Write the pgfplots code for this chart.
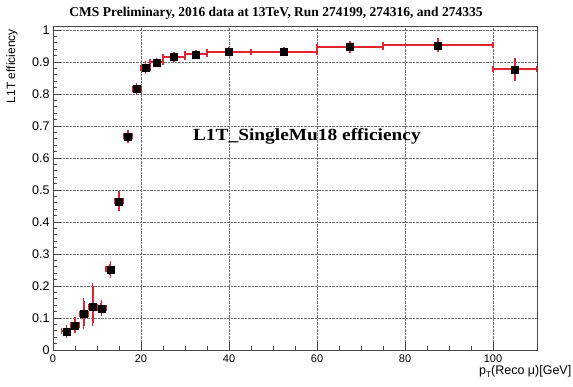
\documentclass[border=0pt]{standalone}
\usepackage{pgfplots}
\usepackage{pgfplotstable}
\pgfplotsset{compat=1.18}
\usepackage{fontspec}
\setmainfont{Liberation Sans}
\newfontfamily\serifbf{Liberation Serif}

\definecolor{rootred}{RGB}{226,36,46}
\definecolor{framegray}{RGB}{70,70,70}

\pgfplotstableread{
x y ex eyp eym
3 0.058 1 0.012 0.010
5 0.077 1 0.018 0.015
7 0.112 1 0.041 0.037
9 0.134 1 0.065 0.051
11 0.130 1 0.016 0.015
13 0.252 1 0.017 0.018
15 0.464 1 0.022 0.021
17 0.667 1 0.012 0.012
19 0.816 1 0.010 0.010
21 0.882 1 0.010 0.010
23.5 0.898 1.5 0.006 0.006
27.5 0.915 2.5 0.005 0.005
32.5 0.923 2.5 0.005 0.005
40 0.932 5 0.004 0.004
52.5 0.932 7.5 0.004 0.004
67.5 0.946 7.5 0.010 0.010
87.5 0.952 12.5 0.012 0.012
105 0.877 5 0.027 0.026
}\effdata

\begin{document}
\begin{tikzpicture}
\begin{axis}[
  name=ax,
  scale only axis,
  width=484pt, height=324pt,
  xmin=0, xmax=110, ymin=0, ymax=1.012,
  xtick={0,20,40,60,80,100},
  ytick={0,0.1,0.2,0.3,0.4,0.5,0.6,0.7,0.8,0.9,1},
  yticklabels={0,0.1,0.2,0.3,0.4,0.5,0.6,0.7,0.8,0.9,1},
  minor x tick num=3,
  minor y tick num=4,
  xtick pos=bottom, ytick pos=left,
  tick align=inside,
  major tick length=8pt, minor tick length=4.5pt,
  every tick/.style={framegray, line width=0.6pt},
  axis line style={framegray, line width=0.7pt},
  grid=major,
  major grid style={densely dotted, black!55, line width=0.6pt},
  /pgf/number format/assume math mode=true,
  xticklabel style={font=\fontsize{11}{11}\selectfont, yshift=-1pt},
  yticklabel style={font=\fontsize{12.5}{12.5}\selectfont},
]
% x error bars (bin widths)
\addplot[draw=rootred, only marks, mark=none, forget plot,
  error bars/.cd, x dir=both, x explicit, error mark=|,
  error bar style={draw=rootred, line width=2pt, solid},
  error mark options={draw=rootred, line width=1.4pt, mark size=3pt}]
  table[x=x, y=y, x error=ex]{\effdata};
% y error bars
\addplot[draw=rootred, only marks, mark=none, forget plot,
  error bars/.cd, y dir=both, y explicit, error mark=-,
  error bar style={draw=rootred, line width=2pt, solid},
  error mark options={draw=rootred, line width=1.4pt, mark size=3pt}]
  table[x=x, y=y, y error plus=eyp, y error minus=eym]{\effdata};
% markers
\addplot[black, only marks, mark=square*, mark size=3.5pt,
  mark options={draw=black, fill=black}]
  table[x=x, y=y]{\effdata};
\node[anchor=base, font=\serifbf\bfseries\fontsize{17}{17}\selectfont]
  at (axis cs:57.7,0.655) {\scalebox{1.14}[1]{L1T\_SingleMu18 efficiency}};
\end{axis}
\node[anchor=base, font=\serifbf\bfseries\fontsize{13.5}{13.5}\selectfont]
  at ([shift={(223pt,9.5pt)}]ax.north west)
  {CMS Preliminary, 2016 data at 13TeV, Run 274199, 274316, and 274335};
\node[rotate=90, anchor=base east, inner sep=0pt, font=\fontsize{12}{12}\selectfont]
  at ([shift={(-38pt,-3pt)}]ax.north west) {L1T efficiency};
\node[anchor=base east, inner sep=0pt, font=\fontsize{12.5}{12.5}\selectfont]
  at ([shift={(34.5pt,-24pt)}]ax.south east)
  {p\raisebox{-0.55ex}{\fontsize{8.5}{8.5}\selectfont T}(Reco μ)[GeV]};
\pgfresetboundingbox
\path ([shift={(-53pt,-36pt)}]ax.south west) rectangle ([shift={(36pt,26pt)}]ax.north east);
\end{tikzpicture}
\end{document}
